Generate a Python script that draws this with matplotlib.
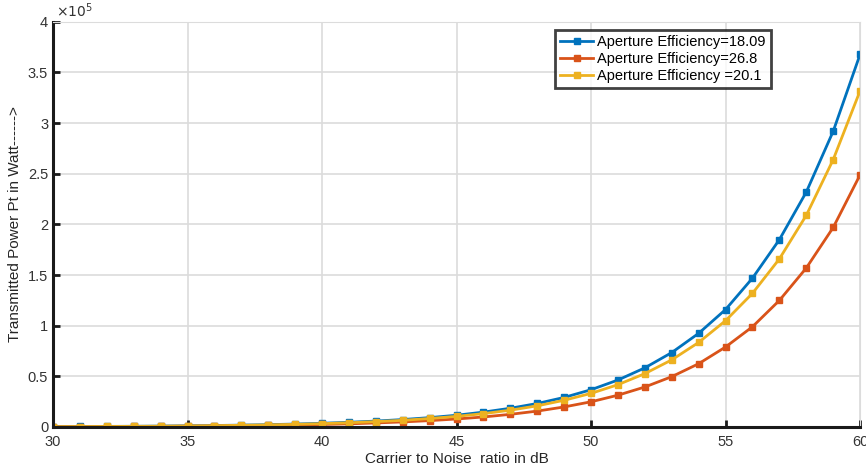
import matplotlib

matplotlib.use("Agg")

import matplotlib.pyplot as plt
from matplotlib.ticker import FuncFormatter, MultipleLocator

plt.rcParams["font.family"] = ["Liberation Sans", "DejaVu Sans"]

# carrier to noise ratio, dB
cnr_db = list(range(30, 61))

# transmitted power, units of 1e5 W
eff_1809 = [0.004, 0.005, 0.006, 0.007, 0.009, 0.0116, 0.0147, 0.0185, 0.023, 0.029,
            0.0368, 0.0464, 0.0584, 0.0735, 0.0925, 0.116, 0.147, 0.185, 0.232, 0.292,
            0.368, 0.464, 0.584, 0.735, 0.925, 1.16, 1.47, 1.85, 2.32, 2.92, 3.68]
eff_268 = [0.0025, 0.003, 0.004, 0.005, 0.006, 0.008, 0.010, 0.0125, 0.016, 0.020,
           0.025, 0.031, 0.040, 0.050, 0.063, 0.079, 0.099, 0.125, 0.157, 0.198,
           0.249, 0.314, 0.395, 0.497, 0.625, 0.79, 0.99, 1.25, 1.57, 1.97, 2.49]
eff_201 = [0.003, 0.004, 0.005, 0.0066, 0.008, 0.0105, 0.013, 0.017, 0.021, 0.026,
           0.033, 0.042, 0.053, 0.066, 0.084, 0.105, 0.132, 0.166, 0.209, 0.264,
           0.332, 0.418, 0.527, 0.663, 0.835, 1.05, 1.32, 1.66, 2.09, 2.64, 3.32]

series = [
    ("Aperture Efficiency=18.09", eff_1809, "#0072BD"),
    ("Aperture Efficiency=26.8", eff_268, "#D95319"),
    ("Aperture Efficiency =20.1", eff_201, "#EDB120"),
]

fig = plt.figure(figsize=(8.66, 4.70), dpi=100)
ax = fig.add_axes([0.0612, 0.0915, 0.932, 0.862])

for label, vals, color in series:
    ax.plot(cnr_db, [v * 1e5 for v in vals], color=color, lw=2.0, marker="s",
            markersize=4, label=label)

ax.set_xlim(30, 60)
ax.set_ylim(0, 4e5)
ax.xaxis.set_major_locator(MultipleLocator(5))
ax.yaxis.set_major_locator(MultipleLocator(0.5e5))
ax.yaxis.set_major_formatter(FuncFormatter(lambda v, p: f"{v / 1e5:g}"))
ax.grid(True, color="#dcdcdc", lw=1.2)
ax.set_axisbelow(True)

for side in ("top", "right"):
    ax.spines[side].set_color("#dcdcdc")
for side in ("left", "bottom"):
    ax.spines[side].set_color("#1a1a1a")
    ax.spines[side].set_linewidth(2.2)
ax.tick_params(direction="in", length=5, width=2, colors="#1a1a1a",
               labelcolor="#333333", labelsize=10.5, top=False, right=False)
ax.tick_params(axis="x", pad=6)

ax.text(0.004, 1.005, r"$\times10^{5}$", transform=ax.transAxes, fontsize=10,
        color="#333333", ha="left", va="bottom")

ax.set_xlabel("Carrier to Noise  ratio in dB", fontsize=11, color="#262626", labelpad=2)
ax.set_ylabel("Transmitted Power Pt in Watt------>", fontsize=11, color="#262626",
              labelpad=4)

leg = ax.legend(loc="upper right", bbox_to_anchor=(0.889, 0.98), fontsize=10.5,
                frameon=True, fancybox=False, borderpad=0.35, labelspacing=0.2,
                handlelength=2.2, handletextpad=0.3, borderaxespad=0)
leg.get_frame().set_edgecolor("#111111")
leg.get_frame().set_linewidth(2)

# title of the source figure, mostly cut off at the top edge
fig.text(0.5, 1.009, "COMPARISON FOR VARIOUS APERTURE EFFICIENCY BETWEEN CARRIER TO NOISE "
         "RATIO VERSUS TRANSMITTED POWER", ha="center", va="center", fontsize=10,
         fontweight="bold", color="#aaaaaa")

fig.savefig("out.png", dpi=100)
